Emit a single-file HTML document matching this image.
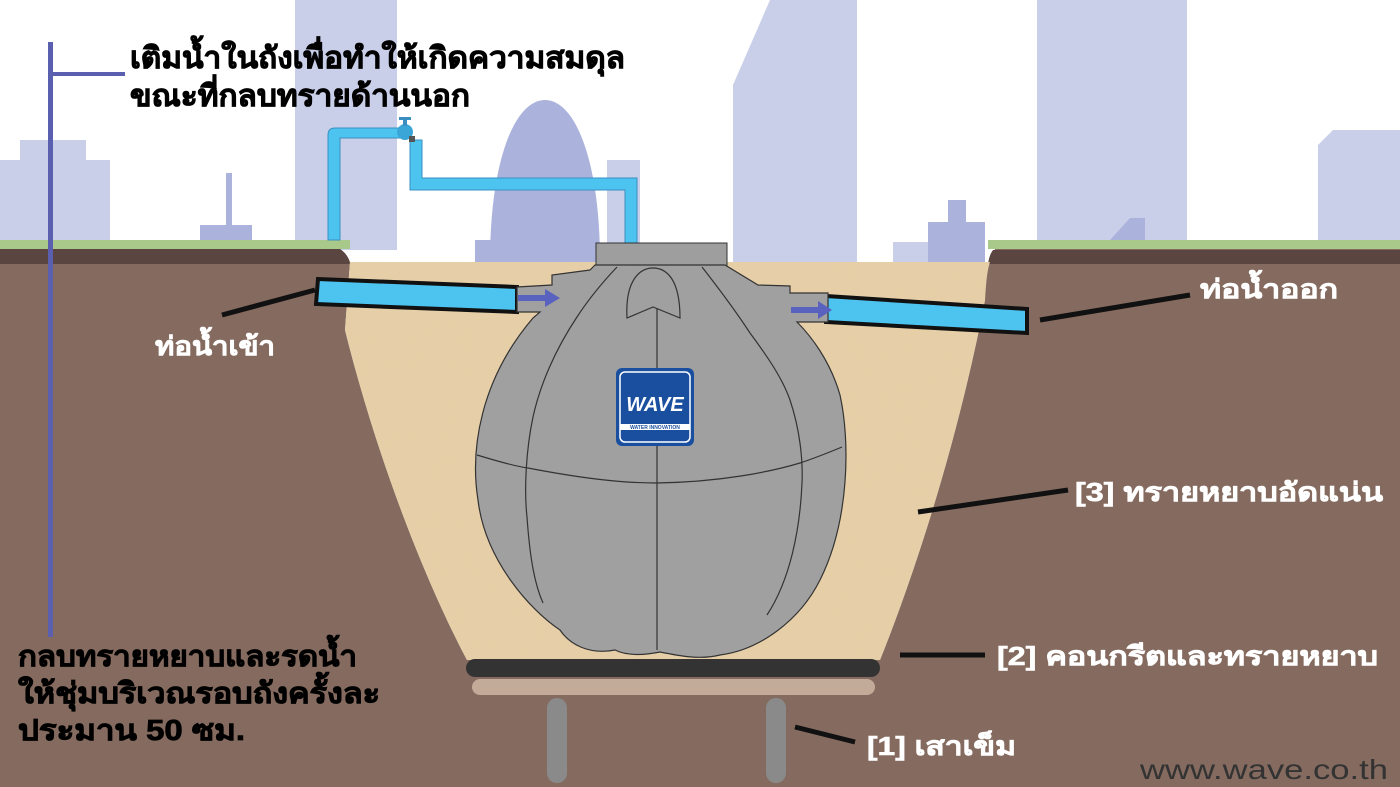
<!DOCTYPE html>
<html><head><meta charset="utf-8"><style>
html,body{margin:0;padding:0;width:1400px;height:787px;overflow:hidden;background:#fff}
svg{display:block}
text{font-family:"Liberation Sans","Noto Sans CJK SC",sans-serif;font-weight:bold}
.k{fill:#000;stroke:#000;stroke-width:0.8}
.w{fill:#fff;stroke:#fff;stroke-width:0.6}
</style></head><body>
<svg width="1400" height="787" viewBox="0 0 1400 787" xmlns="http://www.w3.org/2000/svg">
<defs>
<filter id="grain"><feTurbulence type="fractalNoise" baseFrequency="0.9" numOctaves="2" result="n"/><feColorMatrix type="matrix" values="0 0 0 0 0.6 0 0 0 0 0.5 0 0 0 0 0.35 0 0 0 0.15 0"/><feComposite in2="SourceGraphic" operator="in"/></filter>
</defs>
<rect width="1400" height="787" fill="#fff"/>
<g fill="#c9cfe9">
<rect x="0" y="160" width="110" height="90"/>
<rect x="20" y="140" width="66" height="110"/>
<rect x="295" y="0" width="102" height="250"/>
<path d="M733,85 L770,0 L857,0 L857,262 L733,262 Z"/>
<rect x="1037" y="0" width="150" height="250"/>
<path d="M1318,145 L1333,130 L1400,130 L1400,250 L1318,250 Z"/>
<rect x="607" y="160" width="33" height="102"/>
<rect x="893" y="242" width="40" height="20"/>
</g>
<g fill="#abb3dd">
<rect x="226" y="173" width="6" height="60"/>
<rect x="200" y="225" width="52" height="20"/>
<path d="M490,262 C490,160 515,100 545,100 C575,100 600,160 600,262 Z"/>
<rect x="928" y="222" width="57" height="40"/>
<rect x="948" y="200" width="18" height="30"/>
<path d="M1110,240 L1130,218 L1145,218 L1145,240 Z"/>
<rect x="475" y="240" width="30" height="22"/>
</g>
<rect x="0" y="240" width="350" height="9" fill="#a8c98a"/>
<rect x="988" y="240" width="412" height="9" fill="#a8c98a"/>
<path d="M0,249 L340,249 C348,255 350,262 350,262 L345,330 C380,470 430,590 467,660 L880,660 C920,560 960,430 985,300 C985,280 988,262 995,249 L1400,249 L1400,787 L0,787 Z" fill="#856b5f"/>
<path d="M0,249 L340,249 C346,253 349,258 350,264 L0,264 Z" fill="#5a4540"/>
<path d="M993,250 L1400,250 L1400,264 L988,264 C989,258 990,254 993,250 Z" fill="#5a4540"/>
<path d="M350,262 L990,262 C987,270 986,285 985,300 C960,430 920,560 880,660 L467,660 C430,590 380,470 345,330 Z" fill="#e8d0a8"/>
<path d="M350,262 L990,262 C987,270 986,285 985,300 C960,430 920,560 880,660 L467,660 C430,590 380,470 345,330 Z" fill="#e8d0a8" filter="url(#grain)"/>
<rect x="48" y="42" width="5" height="595" fill="#5b5fb0"/>
<rect x="48" y="72" width="77" height="4" fill="#5b5fb0"/>
<g fill="#4dc3ef" stroke="#3a8fc0" stroke-width="1">
<path d="M328,240 L328,135 Q328,128 335,128 L400,128 L400,138 L340,138 L340,240 Z"/>
<path d="M410,140 L422,140 L422,178 L637,178 L637,245 L625,245 L625,190 L410,190 Z"/>
</g>
<circle cx="405" cy="132" r="8" fill="#3aa6d8"/>
<rect x="403" y="118" width="4" height="8" fill="#3a8fc0"/>
<rect x="399" y="117" width="12" height="3" fill="#3a8fc0"/>
<rect x="409" y="136" width="6" height="6" fill="#555"/>
<path d="M318,279 L517,287 L517,312 L316,304 Z" fill="#4dc3ef" stroke="#111" stroke-width="4"/>
<path d="M826,296 L1027,309 L1027,333 L826,322 Z" fill="#4dc3ef" stroke="#111" stroke-width="4"/>
<rect x="596" y="243" width="131" height="23" fill="#9e9e9e" stroke="#333" stroke-width="1"/>
<path d="M595,265 L590,270 L552,275 L552,285 L517,287 L517,312 L540,312 L533,318 C480,380 470,450 478,500 C485,560 530,610 560,630 C570,645 590,655 615,650 C625,655 640,656 660,652 C680,656 700,660 720,655 C760,650 800,620 820,580 C850,520 850,440 840,395 C830,360 810,335 797,322 L828,322 L828,293 L790,293 L790,286 L758,285 L725,265 Z" fill="#a0a0a0" stroke="#333" stroke-width="1.2"/>
<g fill="none" stroke="#333" stroke-width="1.2">
<path d="M477,455 C500,462 520,467 528,468 C580,478 620,483 657,483 C720,482 770,472 800,463 C815,458 830,452 842,447"/>
<path d="M657,307 L657,650"/>
<path d="M617,267 C600,285 588,300 577,317 C555,350 540,385 533,417 C526,450 524,490 527,517 C530,560 535,585 543,603"/>
<path d="M702,267 C720,290 735,310 750,333 C770,360 783,380 790,400 C800,430 803,460 802,483 C800,530 790,580 767,615"/>
<path d="M627,318 C625,280 640,268 653,268 C667,268 680,280 680,318 L653,307 Z" fill="#a0a0a0"/>
</g>
<path d="M518,295 L545,295 L545,289 L560,298 L545,307 L545,301 L518,301 Z" fill="#5a62c0"/>
<path d="M791,307 L818,307 L818,301 L832,310 L818,319 L818,313 L791,313 Z" fill="#5a62c0"/>
<rect x="616" y="368" width="78" height="78" rx="6" fill="#1a4fa0"/>
<rect x="620" y="372" width="70" height="70" rx="5" fill="none" stroke="#fff" stroke-width="1.5"/>
<text x="655" y="411" font-size="20" fill="#fff" text-anchor="middle" font-style="italic">WAVE</text>
<rect x="620" y="424" width="70" height="6" fill="#fff"/>
<text x="655" y="429" font-size="5" fill="#1a4fa0" text-anchor="middle">WATER INNOVATION</text>
<rect x="466" y="659" width="414" height="18" rx="9" fill="#333"/>
<rect x="472" y="679" width="403" height="16" rx="8" fill="#c2ab98"/>
<rect x="547" y="698" width="20" height="85" rx="10" fill="#8a8a8a"/>
<rect x="766" y="698" width="20" height="85" rx="10" fill="#8a8a8a"/>
<g stroke="#111" stroke-width="5">
<line x1="222" y1="315" x2="315" y2="290"/>
<line x1="1040" y1="320" x2="1190" y2="295"/>
<line x1="918" y1="512" x2="1068" y2="490"/>
<line x1="900" y1="655" x2="985" y2="655"/>
<line x1="795" y1="727" x2="855" y2="742"/>
</g>
<text class="k" x="130" y="68" font-size="30" textLength="495" lengthAdjust="spacingAndGlyphs">เติมน้ำในถังเพื่อทำให้เกิดความสมดุล</text>
<text class="k" x="130" y="106" font-size="30" textLength="340" lengthAdjust="spacingAndGlyphs">ขณะที่กลบทรายด้านนอก</text>
<text class="w" x="155" y="355" font-size="26" textLength="120" lengthAdjust="spacingAndGlyphs">ท่อน้ำเข้า</text>
<text class="w" x="1200" y="298" font-size="26" textLength="138" lengthAdjust="spacingAndGlyphs">ท่อน้ำออก</text>
<text class="w" x="1075" y="501" font-size="26" textLength="308" lengthAdjust="spacingAndGlyphs">[3] ทรายหยาบอัดแน่น</text>
<text class="w" x="997" y="665" font-size="26" textLength="381" lengthAdjust="spacingAndGlyphs">[2] คอนกรีตและทรายหยาบ</text>
<text class="w" x="867" y="755" font-size="26" textLength="149" lengthAdjust="spacingAndGlyphs">[1] เสาเข็ม</text>
<text class="k" x="18" y="666" font-size="29" textLength="339" lengthAdjust="spacingAndGlyphs">กลบทรายหยาบและรดน้ำ</text>
<text class="k" x="18" y="703" font-size="29" textLength="362" lengthAdjust="spacingAndGlyphs">ให้ชุ่มบริเวณรอบถังครั้งละ</text>
<text class="k" x="18" y="740" font-size="29" textLength="227" lengthAdjust="spacingAndGlyphs">ประมาน 50 ซม.</text>
<text x="1140" y="779" font-size="28" fill="#333" style="font-weight:normal" textLength="248" lengthAdjust="spacingAndGlyphs">www.wave.co.th</text>
</svg>
</body></html>
